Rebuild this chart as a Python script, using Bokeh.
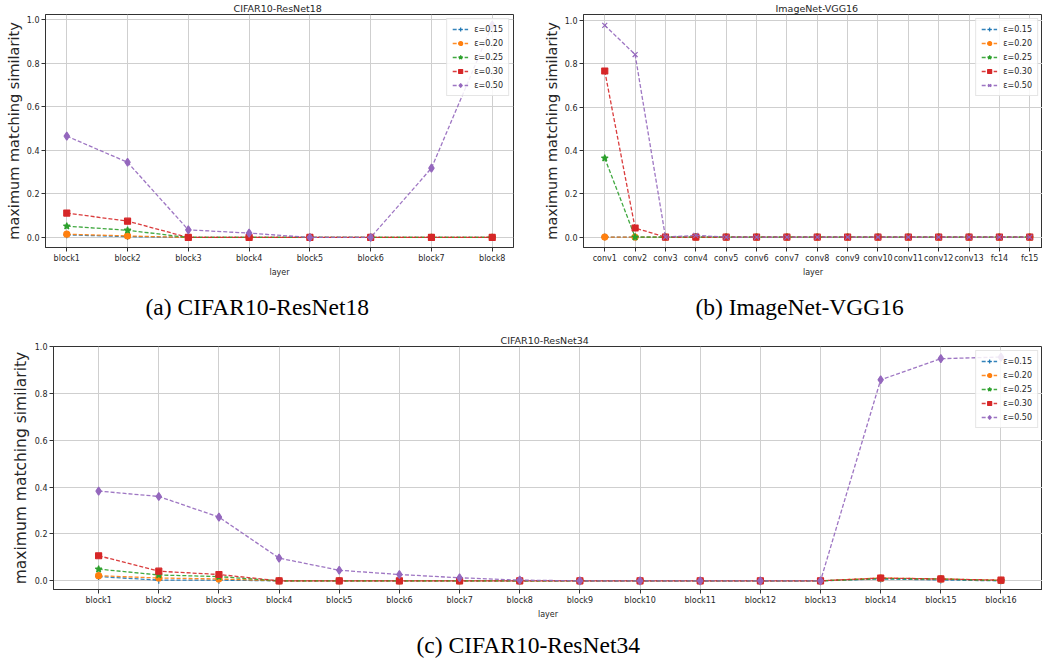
from bokeh.plotting import figure
from bokeh.models import Legend, LegendItem, FixedTicker, Title, Range1d, PrintfTickFormatter
from bokeh.layouts import column, row
from bokeh.embed import file_html
from bokeh.resources import INLINE

# ---------------- data ----------------
eps_labels = ["ε=0.15", "ε=0.20", "ε=0.25", "ε=0.30", "ε=0.50"]
colors = ["#1f77b4", "#ff7f0e", "#2ca02c", "#d62728", "#9467bd"]

a_layers = ["block1", "block2", "block3", "block4", "block5", "block6", "block7", "block8"]
a_eps015 = [0.012, 0.004, 0.0, 0.0, 0.0, 0.0, 0.0, 0.0]
a_eps020 = [0.015, 0.007, 0.0, 0.0, 0.0, 0.0, 0.0, 0.0]
a_eps025 = [0.052, 0.033, 0.0, 0.0, 0.0, 0.0, 0.0, 0.0]
a_eps030 = [0.112, 0.075, 0.0, 0.0, 0.0, 0.0, 0.0, 0.0]
a_eps050 = [0.465, 0.345, 0.035, 0.020, 0.0, 0.0, 0.318, 0.975]

b_layers = ["conv1", "conv2", "conv3", "conv4", "conv5", "conv6", "conv7", "conv8",
            "conv9", "conv10", "conv11", "conv12", "conv13", "fc14", "fc15"]
b_eps015 = [0.0, 0.0, 0.0, 0.0, 0.0, 0.0, 0.0, 0.0, 0.0, 0.0, 0.0, 0.0, 0.0, 0.0, 0.0]
b_eps020 = [0.0, 0.0, 0.0, 0.0, 0.0, 0.0, 0.0, 0.0, 0.0, 0.0, 0.0, 0.0, 0.0, 0.0, 0.0]
b_eps025 = [0.365, 0.0, 0.0, 0.0, 0.0, 0.0, 0.0, 0.0, 0.0, 0.0, 0.0, 0.0, 0.0, 0.0, 0.0]
b_eps030 = [0.767, 0.042, 0.0, 0.0, 0.0, 0.0, 0.0, 0.0, 0.0, 0.0, 0.0, 0.0, 0.0, 0.0, 0.0]
b_eps050 = [0.978, 0.843, 0.0, 0.008, 0.0, 0.0, 0.0, 0.0, 0.0, 0.0, 0.0, 0.0, 0.0, 0.0, 0.0]

c_layers = ["block1", "block2", "block3", "block4", "block5", "block6", "block7", "block8",
            "block9", "block10", "block11", "block12", "block13", "block14", "block15", "block16"]
c_eps015 = [0.018, 0.003, 0.003, 0.0, 0.0, 0.0, 0.0, 0.0, 0.0, 0.0, 0.0, 0.0, 0.0, 0.008, 0.004, 0.0]
c_eps020 = [0.022, 0.012, 0.008, 0.0, 0.0, 0.0, 0.0, 0.0, 0.0, 0.0, 0.0, 0.0, 0.0, 0.012, 0.008, 0.002]
c_eps025 = [0.050, 0.025, 0.018, 0.0, 0.0, 0.0, 0.0, 0.0, 0.0, 0.0, 0.0, 0.0, 0.0, 0.010, 0.008, 0.001]
c_eps030 = [0.107, 0.041, 0.027, 0.0, 0.0, 0.0, 0.0, 0.0, 0.0, 0.0, 0.0, 0.0, 0.0, 0.012, 0.008, 0.003]
c_eps050 = [0.383, 0.360, 0.272, 0.097, 0.045, 0.027, 0.013, 0.003, 0.0, 0.0, 0.0, 0.0, 0.0, 0.858, 0.948, 0.955]

y_ticks = [0.0, 0.2, 0.4, 0.6, 0.8, 1.0]

TXT = "#262626"
FONT = "DejaVu Sans"


def panel(title, title_offset, caption, caption_offset, caption_standoff, layers, series,
          markers, width, height, b_left, b_right, b_top, b_bottom, xr, yr, ylabel_size):
    p = figure(width=width, height=height, output_backend="svg", toolbar_location=None,
               x_range=Range1d(*xr), y_range=Range1d(*yr),
               min_border_left=b_left, min_border_right=b_right,
               min_border_top=b_top, min_border_bottom=b_bottom,
               title=title)
    p.border_fill_color = "white"
    p.title.align = "left"
    p.title.offset = title_offset
    p.title.text_font = FONT
    p.title.text_font_size = "9.5px"
    p.title.text_font_style = "normal"
    p.title.text_color = TXT
    p.title.standoff = 1

    p.outline_line_color = "#333333"
    p.outline_line_width = 1
    p.background_fill_color = "white"

    n = len(layers)
    p.xaxis.ticker = FixedTicker(ticks=list(range(n)))
    p.xaxis.major_label_overrides = {i: name for i, name in enumerate(layers)}
    p.yaxis.ticker = FixedTicker(ticks=y_ticks)
    p.yaxis.formatter = PrintfTickFormatter(format="%.1f")

    for ax in (p.xaxis, p.yaxis):
        ax.axis_line_color = "#333333"
        ax.major_tick_line_color = "#333333"
        ax.major_tick_in = 0
        ax.major_tick_out = 4
        ax.minor_tick_line_color = None
        ax.major_label_text_font = FONT
        ax.major_label_text_font_size = "8px"
        ax.major_label_text_color = TXT
        ax.major_label_standoff = 2
        ax.axis_label_text_font = FONT
        ax.axis_label_text_font_style = "normal"
        ax.axis_label_text_color = TXT
        ax.axis_label_standoff = 2
    p.xaxis.axis_label = "layer"
    p.xaxis.axis_label_text_font_size = "8px"
    p.yaxis.axis_label = "maximum matching similarity"
    p.yaxis.axis_label_text_font_size = ylabel_size

    p.grid.grid_line_color = "#cfcfcf"
    p.grid.grid_line_width = 1

    xs = list(range(n))
    items = []
    for lbl, col, ys, (mk, sz) in zip(eps_labels, colors, series, markers):
        rl = p.line(xs, ys, line_color=col, line_dash="4 2", line_width=1.3, line_alpha=0.9)
        rm = p.scatter(xs, ys, marker=mk, size=sz, fill_color=col, line_color=col, line_width=1.2)
        items.append(LegendItem(label=lbl, renderers=[rl, rm]))

    leg = Legend(items=items, location="top_right")
    leg.label_text_font = FONT
    leg.label_text_font_size = "8px"
    leg.label_text_color = TXT
    leg.glyph_width = 16
    leg.glyph_height = 10
    leg.label_height = 10
    leg.spacing = 4
    leg.padding = 5
    leg.margin = 4
    leg.label_standoff = 6
    leg.border_line_color = "#cccccc"
    leg.background_fill_alpha = 0.85
    p.add_layout(leg)

    cap = Title(text=caption, align="left", offset=caption_offset,
                text_font="Liberation Serif", text_font_size="23.5px",
                text_font_style="normal", text_color="black", standoff=caption_standoff)
    p.add_layout(cap, "below")
    return p


mk_ad = [("cross", 7), ("circle", 6), ("star", 7), ("square", 6), ("diamond", 8)]
mk_b = [("cross", 7), ("circle", 6), ("star", 7), ("square", 6), ("x", 7)]

pa = panel("CIFAR10-ResNet18", 188, "(a) CIFAR10-ResNet18", 100, 24,
           a_layers, [a_eps015, a_eps020, a_eps025, a_eps030, a_eps050], mk_ad,
           520, 331, 45, 7, 12, 40, (-0.35, 7.35), (-0.046, 1.023), "14.5px")

pb = panel("ImageNet-VGG16", 192, "(b) ImageNet-VGG16", 112, 24,
           b_layers, [b_eps015, b_eps020, b_eps025, b_eps030, b_eps050], mk_b,
           522, 331, 63, 0, 12, 40, (-0.70, 14.42), (-0.048, 1.028), "14.5px")

pc = panel("CIFAR10-ResNet34", 447, "(c) CIFAR10-ResNet34", 363, 17,
           c_layers, [c_eps015, c_eps020, c_eps025, c_eps030, c_eps050], mk_ad,
           1042, 335, 53, 0, 15, 40, (-0.75, 15.69), (-0.037, 1.0), "15.5px")

layout = column(row(pa, pb, spacing=0), pc, spacing=0)

open("out.html", "w").write(file_html(layout, INLINE))
